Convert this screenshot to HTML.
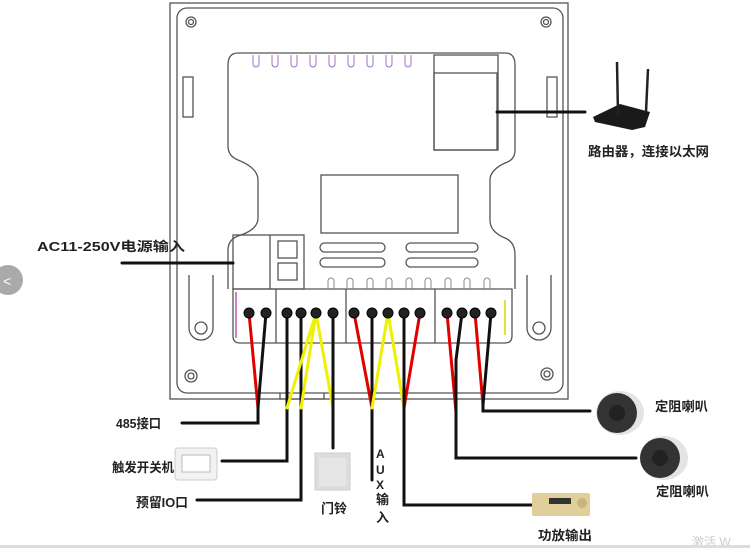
<!DOCTYPE html>
<html><head><meta charset="utf-8"><style>
body{margin:0;background:#fff;}
svg{display:block;}
text{font-family:"Liberation Sans","Noto Sans CJK SC",sans-serif;font-weight:bold;fill:#222;}
</style></head><body>
<svg width="750" height="548" viewBox="0 0 750 548" xmlns="http://www.w3.org/2000/svg">
<rect width="750" height="548" fill="#fff"/>
<g fill="none" stroke="#555" stroke-width="1.3">
<rect x="170" y="3" width="398" height="396"/>
<rect x="177" y="8" width="386" height="385" rx="10"/>
<path d="M238 53 H505 Q515 53 515 65 V150 Q515 160 505 163 Q490 170 490 180 V220 Q490 232 505 238 Q515 242 515 255 V289 M228 289 V250 Q228 240 238 236 Q258 230 258 218 V180 Q258 168 238 160 Q228 156 228 146 V65 Q228 53 238 53"/>
<rect x="434" y="55" width="64" height="95"/>
<rect x="434" y="73" width="63" height="77"/>
<rect x="321" y="175" width="137" height="58"/>
<rect x="320" y="243" width="65" height="9" rx="4.5"/>
<rect x="320" y="258" width="65" height="9" rx="4.5"/>
<rect x="406" y="243" width="72" height="9" rx="4.5"/>
<rect x="406" y="258" width="72" height="9" rx="4.5"/>
<rect x="233" y="235" width="71" height="54"/>
<line x1="270" y1="235" x2="270" y2="289"/>
<rect x="278" y="241" width="19" height="17"/>
<rect x="278" y="263" width="19" height="17"/>
<path d="M233 289 H512 V336 Q512 343 505 343 H240 Q233 343 233 336 Z"/>
<line x1="276" y1="289" x2="276" y2="343"/>
<line x1="346" y1="289" x2="346" y2="343"/>
<line x1="435" y1="289" x2="435" y2="343"/>
<rect x="183" y="77" width="10" height="40"/>
<rect x="547" y="77" width="10" height="40"/>
<circle cx="191" cy="22" r="5"/><circle cx="191" cy="22" r="2.5"/>
<circle cx="546" cy="22" r="5"/><circle cx="546" cy="22" r="2.5"/>
<circle cx="191" cy="376" r="6"/><circle cx="191" cy="376" r="3"/>
<circle cx="547" cy="374" r="6"/><circle cx="547" cy="374" r="3"/>
<path d="M189 275 V328 A12 12 0 0 0 213 328 V275"/>
<circle cx="201" cy="328" r="6"/>
<path d="M527 275 V328 A12 12 0 0 0 551 328 V275"/>
<circle cx="539" cy="328" r="6"/>
<path d="M280 393 V399 H324 V393"/>
</g>
<g fill="none" stroke="#888" stroke-width="1">
<path d="M328 290 V281 a3 3 0 0 1 6 0 V290 M347 290 V281 a3 3 0 0 1 6 0 V290 M367 290 V281 a3 3 0 0 1 6 0 V290 M386 290 V281 a3 3 0 0 1 6 0 V290 M406 290 V281 a3 3 0 0 1 6 0 V290 M425 290 V281 a3 3 0 0 1 6 0 V290 M445 290 V281 a3 3 0 0 1 6 0 V290 M464 290 V281 a3 3 0 0 1 6 0 V290 M484 290 V281 a3 3 0 0 1 6 0 V290"/>
</g>
<g fill="none" stroke="#a070c0" stroke-width="1">
<path d="M253 55 V64 a3 3 0 0 0 6 0 V55 M272 55 V64 a3 3 0 0 0 6 0 V55 M291 55 V64 a3 3 0 0 0 6 0 V55 M310 55 V64 a3 3 0 0 0 6 0 V55 M329 55 V64 a3 3 0 0 0 6 0 V55 M348 55 V64 a3 3 0 0 0 6 0 V55 M367 55 V64 a3 3 0 0 0 6 0 V55 M386 55 V64 a3 3 0 0 0 6 0 V55 M405 55 V64 a3 3 0 0 0 6 0 V55"/>
</g>
<line x1="236" y1="292" x2="236" y2="338" stroke="#d080d0" stroke-width="2"/>
<line x1="505" y1="300" x2="505" y2="335" stroke="#e0e040" stroke-width="2"/>
<g stroke-width="3" fill="none" stroke-linecap="round">
<line x1="249" y1="313" x2="258" y2="408" stroke="#e00000"/>
<line x1="266" y1="313" x2="258" y2="408" stroke="#111"/>
<polyline points="258,408 258,423 182,423" stroke="#111"/>
<polyline points="287,313 287,461 222,461" stroke="#111"/>
<polyline points="301,313 301,500 197,500" stroke="#111"/>
<line x1="316" y1="313" x2="287" y2="408" stroke="#f0f000"/>
<line x1="316" y1="313" x2="301" y2="408" stroke="#f0f000"/>
<line x1="316" y1="313" x2="333" y2="408" stroke="#f0f000"/>
<polyline points="333,313 333,448" stroke="#111"/>
<line x1="354" y1="313" x2="372" y2="408" stroke="#e00000"/>
<polyline points="372,313 372,480" stroke="#111"/>
<line x1="388" y1="313" x2="372" y2="408" stroke="#f0f000"/>
<line x1="388" y1="313" x2="404" y2="408" stroke="#f0f000"/>
<line x1="420" y1="313" x2="404" y2="408" stroke="#e00000"/>
<polyline points="404,313 404,505 532,505" stroke="#111"/>
<line x1="447" y1="313" x2="456" y2="412" stroke="#e00000"/>
<polyline points="462,313 456,360 456,458 636,458" stroke="#111"/>
<line x1="475" y1="313" x2="483" y2="405" stroke="#e00000"/>
<polyline points="491,313 483,405 483,411 590,411" stroke="#111"/>
<line x1="122" y1="263" x2="233" y2="263" stroke="#111"/>
<line x1="497" y1="112" x2="585" y2="112" stroke="#111"/>
</g>
<g fill="#222" stroke="#000" stroke-width="1">
<circle cx="249" cy="313" r="5"/><circle cx="266" cy="313" r="5"/><circle cx="287" cy="313" r="5"/><circle cx="301" cy="313" r="5"/><circle cx="316" cy="313" r="5"/><circle cx="333" cy="313" r="5"/><circle cx="354" cy="313" r="5"/><circle cx="372" cy="313" r="5"/><circle cx="388" cy="313" r="5"/><circle cx="404" cy="313" r="5"/><circle cx="420" cy="313" r="5"/><circle cx="447" cy="313" r="5"/><circle cx="462" cy="313" r="5"/><circle cx="475" cy="313" r="5"/><circle cx="491" cy="313" r="5"/>
</g>
<circle cx="8" cy="280" r="15" fill="#aaa"/>
<text x="3" y="286" font-size="14" style="fill:#fff;font-weight:normal">&lt;</text>
<rect x="175" y="448" width="42" height="32" rx="3" fill="#f2f2f2" stroke="#ccc"/>
<rect x="182" y="455" width="28" height="17" fill="#fff" stroke="#bbb"/>
<rect x="315" y="453" width="35" height="37" fill="#ddd" stroke="#ccc"/>
<rect x="319" y="458" width="27" height="28" fill="#e6e6e6"/>
<rect x="532" y="493" width="58" height="23" rx="2" fill="#e0cf9a"/>
<rect x="549" y="498" width="22" height="6" fill="#333"/>
<circle cx="582" cy="503" r="5" fill="#c9b57a"/>
<ellipse cx="620" cy="413" rx="24" ry="22" fill="#e4e4e4"/>
<circle cx="617" cy="413" r="20" fill="#333"/>
<circle cx="617" cy="413" r="8" fill="#222"/>
<ellipse cx="664" cy="458" rx="24" ry="22" fill="#e4e4e4"/>
<circle cx="660" cy="458" r="20" fill="#333"/>
<circle cx="660" cy="458" r="8" fill="#222"/>
<path d="M593 117 L620 104 L650 112 L645 127 L632 130 L595 122 Z" fill="#1a1a1a"/>
<line x1="617" y1="62" x2="618" y2="115" stroke="#222" stroke-width="2.5"/>
<line x1="648" y1="69" x2="646" y2="112" stroke="#222" stroke-width="2.5"/>
<text x="37" y="251" font-size="13" textLength="148" lengthAdjust="spacingAndGlyphs">AC11-250V电源输入</text>
<text x="116" y="428" font-size="13" textLength="45" lengthAdjust="spacingAndGlyphs">485接口</text>
<text x="112" y="472" font-size="13" textLength="62" lengthAdjust="spacingAndGlyphs">触发开关机</text>
<text x="136" y="507" font-size="13" textLength="52" lengthAdjust="spacingAndGlyphs">预留IO口</text>
<text x="321" y="513" font-size="13">门铃</text>
<text x="376" y="458" font-size="12">A</text>
<text x="376" y="474" font-size="12">U</text>
<text x="376" y="489" font-size="12">X</text>
<text x="376" y="504" font-size="13">输</text>
<text x="376" y="522" font-size="13">入</text>
<text x="538" y="540" font-size="13" textLength="54" lengthAdjust="spacingAndGlyphs">功放输出</text>
<text x="655" y="411" font-size="13" textLength="53" lengthAdjust="spacingAndGlyphs">定阻喇叭</text>
<text x="656" y="496" font-size="13" textLength="53" lengthAdjust="spacingAndGlyphs">定阻喇叭</text>
<text x="588" y="156" font-size="13" textLength="121" lengthAdjust="spacingAndGlyphs">路由器，连接以太网</text>
<text x="692" y="546" font-size="12" style="fill:#ccc;font-weight:normal">激活 W</text>
<rect x="0" y="545" width="750" height="3" fill="#ddd"/>
</svg>
</body></html>
